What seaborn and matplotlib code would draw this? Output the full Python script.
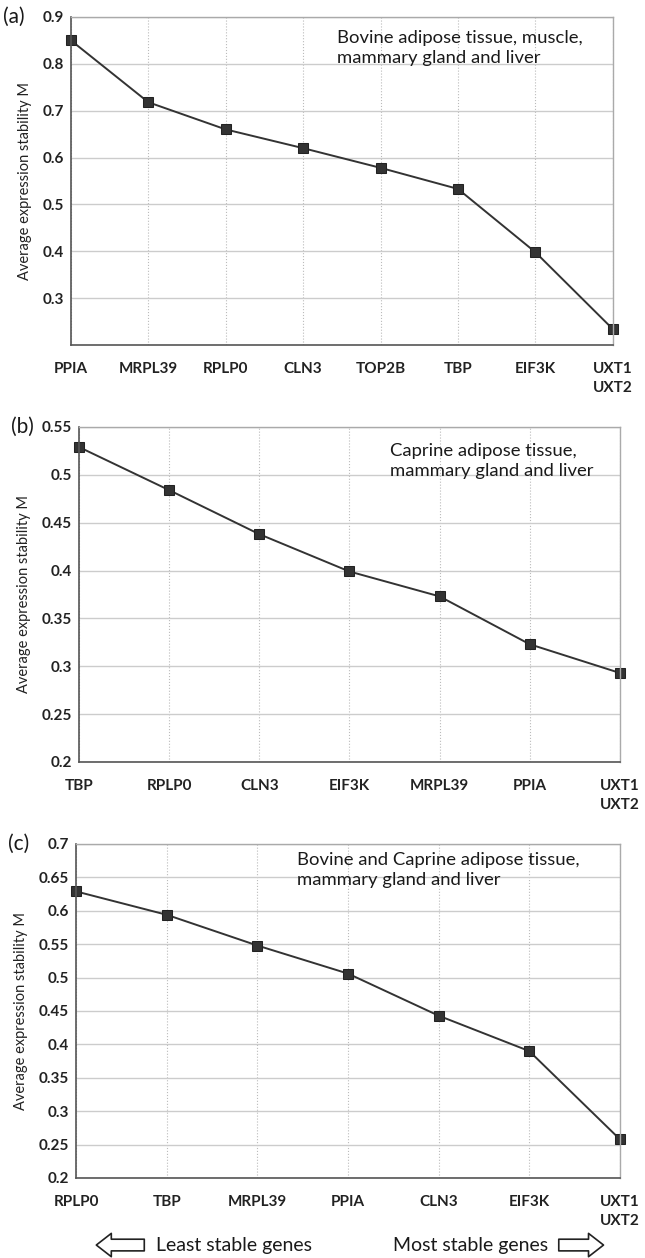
import pandas as pd
import matplotlib.pyplot as plt
import seaborn as sns
from matplotlib.patches import FancyArrowPatch

# Gene order and stability M values
genes_a = ["PPIA", "MRPL39", "RPLP0", "CLN3", "TOP2B", "TBP", "EIF3K", "UXT1\nUXT2"]
m_a = [0.850, 0.718, 0.660, 0.620, 0.578, 0.533, 0.398, 0.234]

genes_b = ["TBP", "RPLP0", "CLN3", "EIF3K", "MRPL39", "PPIA", "UXT1\nUXT2"]
m_b = [0.529, 0.484, 0.438, 0.399, 0.373, 0.323, 0.293]

genes_c = ["RPLP0", "TBP", "MRPL39", "PPIA", "CLN3", "EIF3K", "UXT1\nUXT2"]
m_c = [0.629, 0.594, 0.548, 0.506, 0.443, 0.390, 0.258]

yticks_a = [0.3, 0.4, 0.5, 0.6, 0.7, 0.8, 0.9]
yticks_b = [0.2, 0.25, 0.3, 0.35, 0.4, 0.45, 0.5, 0.55]
yticks_c = [0.2, 0.25, 0.3, 0.35, 0.4, 0.45, 0.5, 0.55, 0.6, 0.65, 0.7]

sns.set_style("white")
plt.rcParams['font.family'] = ['Lato', 'DejaVu Sans']

W, H = 645, 1258
fig = plt.figure(figsize=(W / 100, H / 100), dpi=100)

# tag, genes, values, yticks, ylim, note text, note position (px), axes rect
panels = [
    ("(a)", genes_a, m_a, yticks_a, (0.2, 0.9), "Bovine adipose tissue, muscle,\nmammary gland and liver",
     (337, 48), [0.110, 0.7258, 0.840, 0.2607]),
    ("(b)", genes_b, m_b, yticks_b, (0.2, 0.55), "Caprine adipose tissue,\nmammary gland and liver",
     (390, 461), [0.1225, 0.3943, 0.8385, 0.2663]),
    ("(c)", genes_c, m_c, yticks_c, (0.2, 0.7), "Bovine and Caprine adipose tissue,\nmammary gland and liver",
     (297, 870), [0.118, 0.0636, 0.843, 0.2655]),
]

for tag, genes, vals, yt, ylim, note, npos, rect in panels:
    ax = fig.add_axes(rect)
    df = pd.DataFrame({"pos": range(len(genes)), "M": vals})
    sns.lineplot(data=df, x="pos", y="M", ax=ax, color="#333333", linewidth=1.4,
                 marker="s", markersize=6.5, markeredgecolor="#222222", sort=False)
    for ln in ax.lines:
        ln.set_clip_on(False)
    ax.set_xlim(0, len(genes) - 1)
    ax.set_ylim(*ylim)
    ax.set_xticks(range(len(genes)))
    ax.set_xticklabels(genes, fontsize=11, fontweight="bold", color="#222222",
                       va="top", linespacing=1.45)
    ax.set_yticks(yt)
    ax.set_yticklabels([f"{v:g}" for v in yt], fontsize=11, fontweight="bold", color="#222222")
    ax.tick_params(axis="x", length=4, pad=8, color="#555555", direction="out")
    ax.tick_params(axis="y", length=3, pad=2, color="#555555", direction="out")
    ax.grid(axis="y", color="#cccccc", linewidth=1.0, linestyle="-")
    ax.grid(axis="x", color="#bbbbbb", linewidth=0.8, linestyle=":")
    ax.set_axisbelow(True)
    for s in ["left", "bottom"]:
        ax.spines[s].set_color("#555555")
        ax.spines[s].set_linewidth(1.2)
    for s in ["top", "right"]:
        ax.spines[s].set_color("#aaaaaa")
        ax.spines[s].set_linewidth(1.0)
    ax.set_xlabel("")
    ax.set_ylabel("Average expression stability M", fontsize=10.5, color="#222222", labelpad=8)
    fig.text(npos[0] / W, 1 - npos[1] / H, note, fontsize=13.3, color="#1a1a1a",
             va="center", ha="left", linespacing=1.35)
    ax.text(-0.125, 1.0, tag, transform=ax.transAxes, fontsize=15, color="#1a1a1a",
            va="center", ha="left")

# bottom "Least / Most stable genes" arrows
fig.text(0.242, 0.0103, "Least stable genes", fontsize=14, color="#1a1a1a", va="center", ha="left")
fig.text(0.610, 0.0103, "Most stable genes", fontsize=14, color="#1a1a1a", va="center", ha="left")
arrow_style = "simple,head_width=1.4,head_length=0.9,tail_width=0.7"
fig.add_artist(FancyArrowPatch((0.228, 0.0103), (0.145, 0.0103), transform=fig.transFigure,
                               arrowstyle=arrow_style, mutation_scale=12,
                               facecolor="white", edgecolor="#222222", linewidth=1.2))
fig.add_artist(FancyArrowPatch((0.862, 0.0103), (0.940, 0.0103), transform=fig.transFigure,
                               arrowstyle=arrow_style, mutation_scale=12,
                               facecolor="white", edgecolor="#222222", linewidth=1.2))

fig.savefig("out.png", dpi=100)
